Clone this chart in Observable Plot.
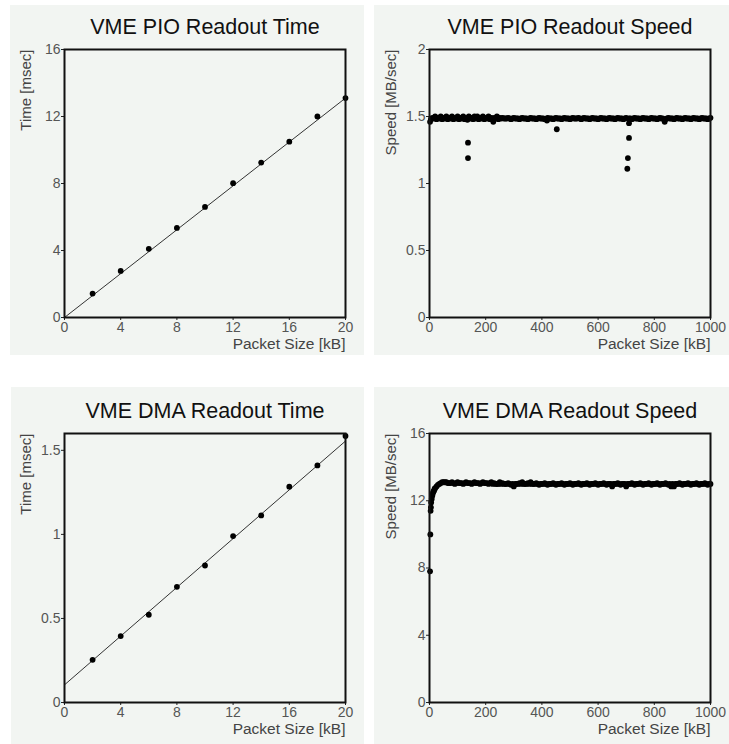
<!DOCTYPE html>
<html><head><meta charset="utf-8">
<script src="https://cdn.jsdelivr.net/npm/d3@7"></script>
<script src="https://cdn.jsdelivr.net/npm/@observablehq/plot@0.6"></script>
<style>
body{margin:0;background:#fff;width:729px;height:744px;position:relative;overflow:hidden;font-family:"Liberation Sans",Arial,sans-serif}
.bg{position:absolute;background:#f2f5f2}
.panel{position:absolute}
.panel svg{background:transparent}
.panel svg g[aria-label*="axis"] text{font-size:14px;fill:#555}
</style></head>
<body>
<div class="bg" style="left:10px;top:5px;width:354px;height:350px"></div>
<div class="bg" style="left:374px;top:5px;width:355px;height:350px"></div>
<div class="bg" style="left:11px;top:387px;width:353px;height:357px"></div>
<div class="bg" style="left:374px;top:387px;width:355px;height:357px"></div>
<div id="p1" class="panel" style="left:0;top:0"></div>
<div id="p2" class="panel" style="left:365px;top:0"></div>
<div id="p3" class="panel" style="left:0;top:372px"></div>
<div id="p4" class="panel" style="left:365px;top:372px"></div>
<script>
// ---- titles and labels ----
const titles = ["VME PIO Readout Time", "VME PIO Readout Speed", "VME DMA Readout Time", "VME DMA Readout Speed"];
const yLabels = ["Time [msec]", "Speed [MB/sec]", "Time [msec]", "Speed [MB/sec]"];
const xLabel = "Packet Size [kB]";

// ---- tick values ----
const timeXTicks = [0, 4, 8, 12, 16, 20];
const speedXTicks = [0, 200, 400, 600, 800, 1000];
const pioTimeYTicks = [0, 4, 8, 12, 16];
const pioSpeedYTicks = [0, 0.5, 1, 1.5, 2];
const dmaTimeYTicks = [0, 0.5, 1, 1.5];
const dmaSpeedYTicks = [0, 4, 8, 12, 16];

// ---- VME PIO readout time ----
const pioSize = [2, 4, 6, 8, 10, 12, 14, 16, 18, 20];
const pioTime = [1.43, 2.78, 4.1, 5.35, 6.6, 8.02, 9.25, 10.5, 12.0, 13.1];
const pioFitX = [0, 20];
const pioFitY = [0, 13.1];

// ---- VME DMA readout time ----
const dmaSize = [2, 4, 6, 8, 10, 12, 14, 16, 18, 20];
const dmaTime = [0.254, 0.395, 0.522, 0.688, 0.815, 0.99, 1.113, 1.284, 1.41, 1.585];
const dmaFitX = [0, 20];
const dmaFitY = [0.105, 1.555];

// ---- VME PIO readout speed ----
const pioSpeedSize = [
  2, 10, 20, 30, 40, 50, 60, 70, 80, 90,
  100, 110, 120, 130, 140, 150, 160, 170, 180, 190,
  200, 210, 220, 230, 240, 250, 260, 270, 280, 290,
  300, 310, 320, 330, 340, 350, 360, 370, 380, 390,
  400, 410, 420, 430, 440, 450, 460, 470, 480, 490,
  500, 510, 520, 530, 540, 550, 560, 570, 580, 590,
  600, 610, 620, 630, 640, 650, 660, 670, 680, 690,
  700, 710, 720, 730, 740, 750, 760, 770, 780, 790,
  800, 810, 820, 830, 840, 850, 860, 870, 880, 890,
  900, 910, 920, 930, 940, 950, 960, 970, 980, 990,
  1000,
  5, 15, 25, 35, 45, 55, 65, 75, 85, 95, 105, 115, 125, 145, 155, 165, 175, 185, 195, 205, 215, 235, 245, 255,
  265, 275, 285, 295, 305, 315, 325, 335, 345, 355, 365, 375, 385, 395,
  405, 425, 435, 445, 455, 465, 475, 485, 495, 505, 515, 525, 535, 545,
  555, 565, 575, 585, 595, 605, 615, 625, 635, 645, 655, 665, 675, 685,
  695, 715, 725, 735, 745, 755, 765, 775, 785, 795, 805, 815, 825, 845,
  855, 865, 875, 885, 895, 905, 915, 925, 935, 945, 955, 965, 975, 985, 995,
  135, 227, 418, 710, 837,
  137, 137, 453, 710, 706, 704
];
const pioSpeed = [
  1.46, 1.49, 1.50, 1.49, 1.50, 1.49, 1.50, 1.49, 1.50, 1.49,
  1.50, 1.49, 1.50, 1.49, 1.50, 1.49, 1.50, 1.50, 1.49, 1.50,
  1.49, 1.50, 1.49, 1.49, 1.50, 1.49, 1.49, 1.485, 1.49, 1.48,
  1.49, 1.485, 1.48, 1.49, 1.485, 1.48, 1.49, 1.485, 1.48, 1.49,
  1.485, 1.48, 1.49, 1.485, 1.48, 1.49, 1.485, 1.48, 1.49, 1.485,
  1.48, 1.49, 1.485, 1.49, 1.48, 1.49, 1.485, 1.48, 1.49, 1.485,
  1.48, 1.49, 1.485, 1.48, 1.49, 1.485, 1.48, 1.49, 1.485, 1.48,
  1.49, 1.485, 1.48, 1.49, 1.485, 1.48, 1.49, 1.485, 1.48, 1.49,
  1.485, 1.48, 1.49, 1.485, 1.48, 1.49, 1.485, 1.48, 1.49, 1.485,
  1.48, 1.49, 1.485, 1.48, 1.49, 1.485, 1.48, 1.49, 1.485, 1.48,
  1.49,
  1.48, 1.485, 1.48, 1.485, 1.48, 1.485, 1.48, 1.485, 1.48, 1.485, 1.48, 1.485, 1.48, 1.485, 1.48, 1.485, 1.48, 1.485, 1.48, 1.485, 1.48, 1.485, 1.48, 1.485,
  1.485, 1.485, 1.485, 1.485, 1.485, 1.485, 1.485, 1.485, 1.485, 1.485, 1.485, 1.485, 1.485, 1.485,
  1.485, 1.485, 1.485, 1.485, 1.485, 1.485, 1.485, 1.485, 1.485, 1.485, 1.485, 1.485, 1.485, 1.485,
  1.485, 1.485, 1.485, 1.485, 1.485, 1.485, 1.485, 1.485, 1.485, 1.485, 1.485, 1.485, 1.485, 1.485,
  1.485, 1.485, 1.485, 1.485, 1.485, 1.485, 1.485, 1.485, 1.485, 1.485, 1.485, 1.485, 1.485, 1.485,
  1.485, 1.485, 1.485, 1.485, 1.485, 1.485, 1.485, 1.485, 1.485, 1.485, 1.485, 1.485, 1.485, 1.485, 1.485,
  1.475, 1.46, 1.47, 1.45, 1.46,
  1.305, 1.19, 1.405, 1.34, 1.19, 1.11
];

// ---- VME DMA readout speed ----
const dmaSpeedSize = [
  2, 3, 4, 5, 6, 8, 10, 12, 14, 16,
  18, 20, 25, 30, 35, 40, 45, 50, 55, 60,
  70, 80, 90, 100, 110, 120, 130, 140, 150, 160,
  170, 180, 190, 200, 210, 220, 230, 240, 250, 260,
  270, 280, 290, 300, 310, 320, 330, 340, 350, 360,
  370, 380, 390, 400, 410, 420, 430, 440, 450, 460,
  470, 480, 490, 500, 510, 520, 530, 540, 550, 560,
  570, 580, 590, 600, 610, 620, 630, 640, 650, 660,
  670, 680, 690, 700, 710, 720, 730, 740, 750, 760,
  770, 780, 790, 800, 810, 820, 830, 840, 850, 860,
  870, 880, 890, 900, 910, 920, 930, 940, 950, 960,
  970, 980, 990, 1000,
  65, 75, 85, 95, 105, 115, 125, 135, 145, 155, 165, 175, 185, 195, 205, 215,
  225, 235, 245, 255, 265, 275, 285, 295, 305, 315, 325, 335, 345, 355, 365, 375,
  385, 395, 405, 415, 425, 435, 445, 455, 465, 475, 485, 495, 505, 515, 525, 535,
  545, 555, 565, 575, 585, 595, 605, 615, 625, 635, 645, 655, 665, 675, 685, 695,
  705, 715, 725, 735, 745, 755, 765, 775, 785, 795, 805, 815, 825, 835, 845, 855,
  865, 875, 885, 895, 905, 915, 925, 935, 945, 955, 965, 975, 985, 995
];
const dmaSpeed = [
  7.8, 10.0, 11.4, 11.6, 11.9, 12.1, 12.3, 12.45, 12.55, 12.6,
  12.7, 12.75, 12.85, 12.95, 13.0, 13.05, 13.1, 13.1, 13.1, 13.1,
  13.05, 13.1, 13.0, 13.1, 13.05, 13.0, 13.1, 13.05, 13.0, 13.1,
  13.05, 13.0, 13.1, 13.05, 13.0, 13.1, 13.05, 13.0, 13.1, 13.05,
  13.0, 13.05, 12.95, 12.85, 13.0, 13.05, 13.1, 13.0, 13.05, 13.1,
  13.0, 13.05, 12.95, 13.0, 13.05, 12.95, 13.0, 13.05, 12.95, 13.0,
  13.05, 12.95, 13.0, 13.05, 12.95, 13.0, 13.05, 12.95, 13.0, 13.05,
  12.95, 13.0, 13.05, 12.95, 13.0, 13.05, 12.95, 13.0, 12.85, 13.0,
  13.05, 12.95, 13.0, 12.85, 13.0, 13.05, 12.95, 13.0, 13.05, 12.95,
  13.0, 13.05, 12.95, 13.0, 13.05, 12.95, 13.0, 13.05, 12.95, 12.85,
  12.85, 13.0, 13.05, 12.95, 13.0, 13.05, 12.95, 13.0, 13.05, 12.95,
  13.0, 13.05, 12.95, 13.0,
  13.05, 13.05, 13.05, 13.05, 13.05, 13.05, 13.05, 13.05, 13.05, 13.05, 13.05, 13.05, 13.05, 13.05, 13.05, 13.05,
  13.0, 13.0, 13.0, 13.0, 13.0, 13.0, 13.0, 13.0, 13.0, 13.0, 13.0, 13.0, 13.0, 13.0, 13.0, 13.0,
  13.0, 13.0, 13.0, 13.0, 13.0, 13.0, 13.0, 13.0, 13.0, 13.0, 13.0, 13.0, 13.0, 13.0, 13.0, 13.0,
  13.0, 13.0, 13.0, 13.0, 13.0, 13.0, 13.0, 13.0, 13.0, 13.0, 13.0, 13.0, 13.0, 13.0, 13.0, 13.0,
  13.0, 13.0, 13.0, 13.0, 13.0, 13.0, 13.0, 13.0, 13.0, 13.0, 13.0, 13.0, 13.0, 13.0, 13.0, 13.0,
  13.0, 13.0, 13.0, 13.0, 13.0, 13.0, 13.0, 13.0, 13.0, 13.0, 13.0, 13.0, 13.0, 13.0
];

const FONT = "Liberation Sans, Arial, Helvetica, sans-serif";
const fmt = d => String(d);
const zip = (xs, ys) => xs.map((x, i) => ({x, y: ys[i]}));

function makePanel({title, ylabel, xDomain, xTicks, yDomain, yTicks, points, fit, top}) {
  const marginTop = top ? 49 : 61;
  const plotH = top ? 268 : 269;
  const marginBottom = top ? 48 : 42;
  const marks = [
    Plot.axisX({ticks: xTicks, tickFormat: fmt, tickSize: 3, tickPadding: 2, fontSize: 14, fill: "#555", stroke: "#222", label: null}),
    Plot.axisY({ticks: yTicks, tickFormat: fmt, tickSize: 3, tickPadding: 1, fontSize: 14, fill: "#555", stroke: "#222", label: null})
  ];
  if (fit) marks.push(Plot.line(fit, {x: "x", y: "y", stroke: "#333", strokeWidth: 1}));
  marks.push(Plot.dot(points, {x: "x", y: "y", r: 2.9, fill: "#000", stroke: "none"}));
  marks.push(Plot.frame({stroke: "#111", strokeWidth: 2}));
  marks.push(Plot.text([title], {text: d => d, frameAnchor: "top", dy: -16, lineAnchor: "bottom", fontSize: 21.5, fill: "#111"}));
  marks.push(Plot.text([ylabel], {text: d => d, frameAnchor: "top-left", rotate: -90, textAnchor: "end", lineAnchor: "middle", dx: -38, fontSize: 15, fill: "#444"}));
  marks.push(Plot.text([xLabel], {text: d => d, frameAnchor: "bottom-right", textAnchor: "end", lineAnchor: "bottom", dy: 31, fontSize: 15.5, fill: "#444"}));
  return Plot.plot({
    width: 364,
    height: marginTop + plotH + marginBottom,
    marginLeft: 64,
    marginRight: 19,
    marginTop,
    marginBottom,
    style: {background: "transparent", fontFamily: FONT, fontSize: "14px", color: "#444", overflow: "visible"},
    x: {domain: xDomain},
    y: {domain: yDomain},
    marks
  });
}

document.getElementById("p1").append(makePanel({
  title: titles[0], ylabel: yLabels[0], xDomain: [0, 20], xTicks: timeXTicks,
  yDomain: [0, 16], yTicks: pioTimeYTicks, points: zip(pioSize, pioTime), fit: zip(pioFitX, pioFitY), top: true
}));
document.getElementById("p2").append(makePanel({
  title: titles[1], ylabel: yLabels[1], xDomain: [0, 1000], xTicks: speedXTicks,
  yDomain: [0, 2], yTicks: pioSpeedYTicks, points: zip(pioSpeedSize, pioSpeed), fit: null, top: true
}));
document.getElementById("p3").append(makePanel({
  title: titles[2], ylabel: yLabels[2], xDomain: [0, 20], xTicks: timeXTicks,
  yDomain: [0, 1.6], yTicks: dmaTimeYTicks, points: zip(dmaSize, dmaTime), fit: zip(dmaFitX, dmaFitY), top: false
}));
document.getElementById("p4").append(makePanel({
  title: titles[3], ylabel: yLabels[3], xDomain: [0, 1000], xTicks: speedXTicks,
  yDomain: [0, 16], yTicks: dmaSpeedYTicks, points: zip(dmaSpeedSize, dmaSpeed), fit: null, top: false
}));
</script>
</body></html>
